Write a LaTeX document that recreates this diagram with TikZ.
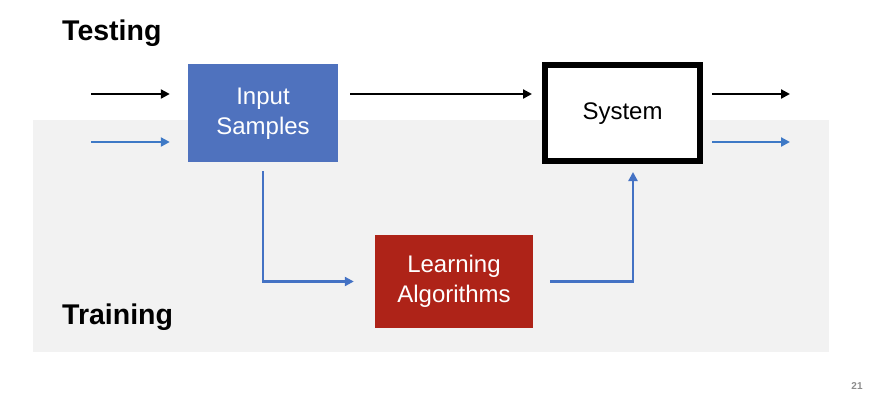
\documentclass[tikz,border=0pt]{standalone}
\usepackage{fontspec}
\setmainfont{Liberation Sans}
\usetikzlibrary{arrows.meta}
\definecolor{bgray}{HTML}{F2F2F2}
\definecolor{boxblue}{HTML}{4F72BE}
\definecolor{boxred}{HTML}{AE2318}
\definecolor{lineblue}{HTML}{4472C4}
\definecolor{inblue}{HTML}{3E79C6}
\definecolor{pgnum}{HTML}{8C8C8C}
\newcommand{\lowtext}[1]{\raisebox{-3pt}{\begin{tabular}{@{}c@{}}#1\end{tabular}}}
\tikzset{
  blk/.style={draw=none, minimum width=150pt, minimum height=98pt, inner sep=0pt,
    align=center, text=white, font=\fontsize{24}{30}\selectfont},
  sysbox/.style={draw=black, line width=6pt, fill=white, minimum width=155pt, minimum height=96pt,
    inner sep=0pt, font=\fontsize{24}{30}\selectfont},
  title/.style={anchor=west, inner sep=0pt, font=\fontsize{28.5}{34}\selectfont\bfseries},
  arr/.style={line width=2.2pt, -{Triangle[length=9pt,width=9pt]}},
  karr/.style={arr, draw=black},
  barr/.style={arr, draw=lineblue},
  iarr/.style={arr, draw=inblue},
}
\begin{document}
\begin{tikzpicture}[x=1pt,y=-1pt]
\useasboundingbox (0,0) rectangle (872,402);
\fill[bgray] (33,120) rectangle (829,352);
\node[title] (test) at (62,33.5) {Testing};
\node[title] (train) at (62,317) {Training};
\node[blk, fill=boxblue] (in) at (263,113) {\lowtext{Input\\Samples}};
\node[sysbox] (sys) at (622.5,113) {\lowtext{System}};
\node[blk, fill=boxred, minimum width=158pt, minimum height=93pt] (learn) at (454,281.5) {\lowtext{Learning\\Algorithms}};
\coordinate (t0) at (91,94);
\coordinate (b0) at (91,142);
\coordinate (t1) at (790,94);
\coordinate (b1) at (790,142);
\draw[karr, shorten >=18pt] (t0) -- (in.west |- t0);
\draw[iarr, shorten >=18pt] (b0) -- (in.west |- b0);
\draw[karr, shorten <=12pt, shorten >=10pt] (in.east |- t0) -- (sys.west |- t0);
\draw[karr, shorten <=9pt] (sys.east |- t1) -- (t1);
\draw[iarr, shorten <=9pt] (sys.east |- b1) -- (b1);
\draw[barr, shorten <=9pt, shorten >=21pt] (in.south) |- (learn.west);
\draw[barr, shorten <=17pt, shorten >=8pt] (learn.east) -| ([xshift=10.5pt]sys.south);
\node[text=pgnum, font=\fontsize{10}{12}\selectfont\bfseries] (pg) at (857,386) {21};
\end{tikzpicture}
\end{document}
